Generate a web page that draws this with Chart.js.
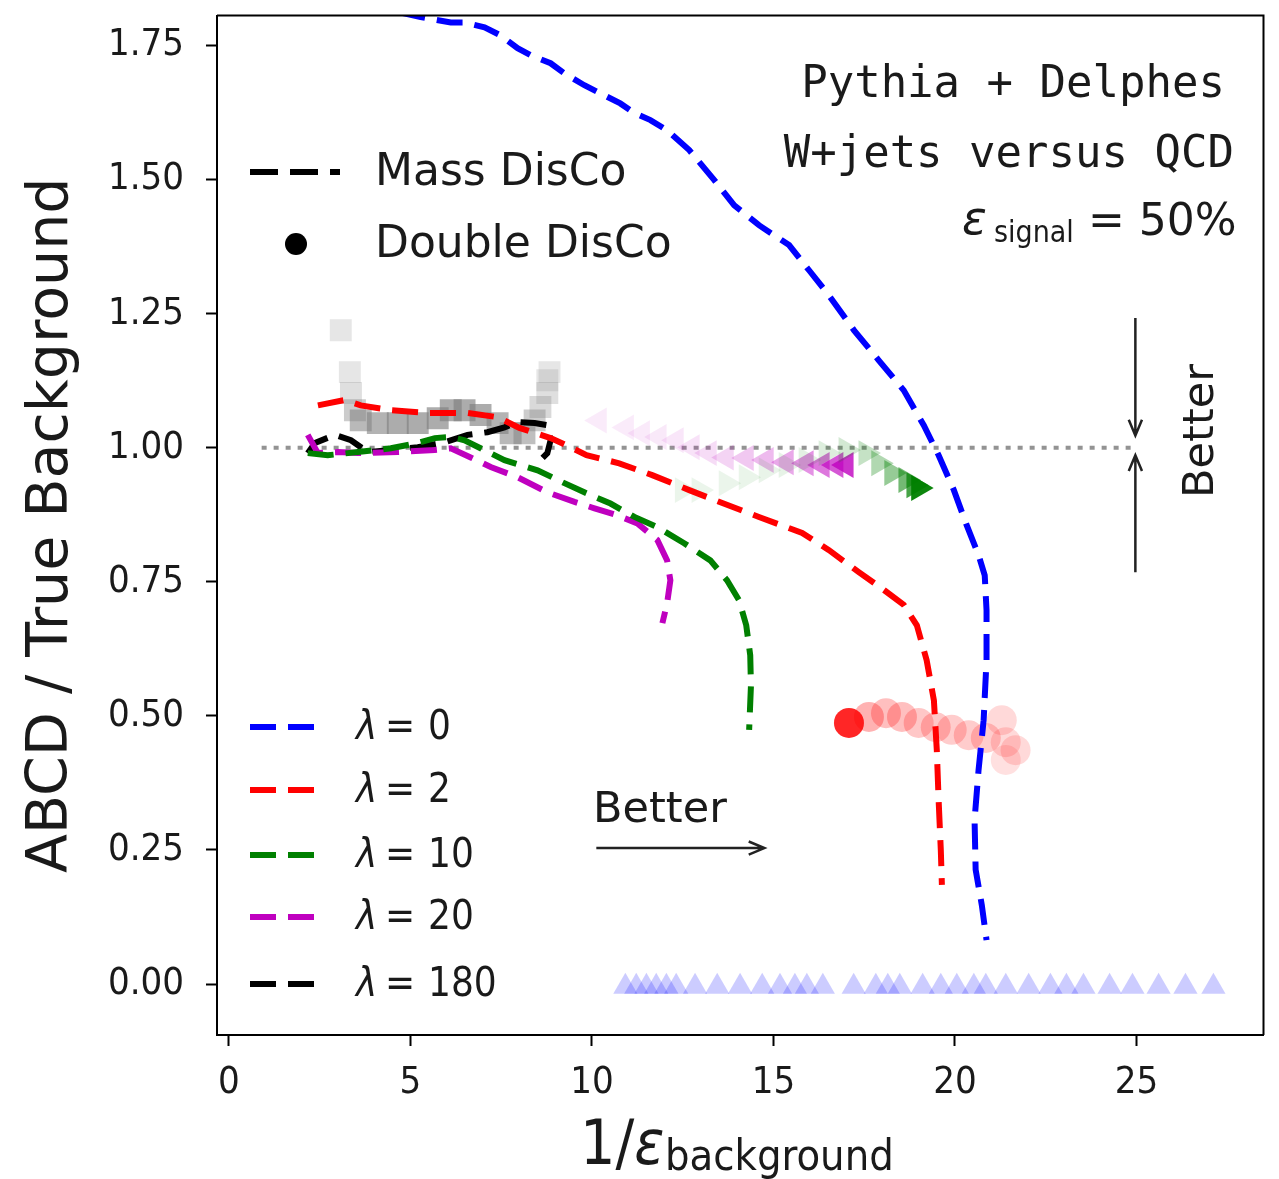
<!DOCTYPE html>
<html>
<head>
<meta charset="utf-8">
<script src="https://cdn.jsdelivr.net/npm/chart.js@4.4.1/dist/chart.umd.min.js"></script>
<style>
  html, body { margin: 0; padding: 0; background: #fff; }
</style>
</head>
<body>
<canvas id="chart" width="1279" height="1179"></canvas>
<script>
// ---- values ----
const xTicks = [0, 5, 10, 15, 20, 25];
const yTicks = [0, 0.25, 0.5, 0.75, 1.0, 1.25, 1.5, 1.75];

// Mass DisCo (dashed curves)
const lam0X = [4.70, 5.28, 6.11, 6.49, 7.04, 7.48, 7.95, 8.31, 8.86, 9.24, 9.79, 10.23, 10.78, 11.17, 11.61, 12.07, 12.68, 13.37, 13.92, 14.60, 15.43, 15.98, 16.53, 17.22, 17.90, 18.59, 19.14, 19.55, 19.97, 20.32, 20.65, 20.82, 20.87, 20.87, 20.79, 20.65, 20.54, 20.57, 20.74, 20.87];
const lam0Y = [1.812, 1.803, 1.793, 1.793, 1.784, 1.769, 1.745, 1.732, 1.717, 1.698, 1.676, 1.661, 1.642, 1.624, 1.611, 1.592, 1.555, 1.499, 1.452, 1.415, 1.378, 1.331, 1.284, 1.219, 1.163, 1.107, 1.042, 0.986, 0.921, 0.856, 0.800, 0.762, 0.697, 0.604, 0.492, 0.399, 0.306, 0.213, 0.147, 0.082];

const lam2X = [2.45, 3.19, 3.63, 4.46, 5.47, 6.57, 7.40, 8.00, 8.86, 9.41, 9.85, 10.75, 11.66, 12.68, 13.59, 14.60, 15.79, 16.53, 17.35, 18.04, 18.59, 18.95, 19.22, 19.42, 19.50, 19.55, 19.61, 19.64];
const lam2Y = [1.079, 1.089, 1.079, 1.070, 1.065, 1.065, 1.057, 1.037, 1.018, 1.001, 0.986, 0.971, 0.949, 0.921, 0.897, 0.871, 0.841, 0.809, 0.768, 0.735, 0.707, 0.669, 0.604, 0.529, 0.436, 0.343, 0.250, 0.185];

const lam10X = [2.17, 2.72, 3.55, 4.46, 5.20, 5.67, 6.11, 6.49, 6.93, 7.59, 8.50, 9.24, 9.79, 10.51, 11.17, 11.80, 12.54, 13.26, 13.72, 14.05, 14.25, 14.36, 14.38, 14.33];
const lam10Y = [0.990, 0.986, 0.992, 0.999, 1.009, 1.018, 1.020, 1.014, 0.999, 0.977, 0.958, 0.934, 0.917, 0.896, 0.871, 0.852, 0.822, 0.790, 0.753, 0.716, 0.669, 0.613, 0.557, 0.474];

const lam20X = [2.17, 2.45, 3.00, 3.55, 4.65, 5.67, 6.11, 6.66, 7.21, 7.95, 8.77, 9.52, 10.07, 10.70, 11.25, 11.80, 12.07, 12.16, 12.07, 11.94];
const lam20Y = [1.024, 0.990, 0.992, 0.990, 0.992, 0.996, 0.999, 0.982, 0.964, 0.945, 0.917, 0.899, 0.887, 0.874, 0.859, 0.828, 0.790, 0.753, 0.710, 0.673];

const lam180X = [2.17, 2.37, 2.92, 3.36, 3.82, 4.46, 5.20, 5.94, 6.57, 7.12, 7.59, 7.95, 8.42, 8.77, 8.86, 8.77, 8.64];
const lam180Y = [0.990, 1.009, 1.024, 1.014, 0.992, 0.996, 1.001, 1.010, 1.024, 1.029, 1.038, 1.048, 1.046, 1.042, 1.014, 0.990, 0.981];

// Double DisCo (markers)
const dd0X = [10.92, 11.22, 11.50, 11.77, 12.05, 12.32, 12.84, 13.45, 14.08, 14.69, 15.18, 15.59, 15.92, 16.36, 17.21, 17.82, 18.15, 18.48, 19.11, 19.61, 20.05, 20.52, 20.85, 21.40, 22.03, 22.63, 23.07, 23.54, 24.26, 24.89, 25.61, 26.35, 27.12];
const dd0Y = [-0.005, -0.005, -0.005, -0.005, -0.005, -0.005, -0.005, -0.005, -0.005, -0.005, -0.005, -0.005, -0.005, -0.005, -0.005, -0.005, -0.005, -0.005, -0.005, -0.005, -0.005, -0.005, -0.005, -0.005, -0.005, -0.005, -0.005, -0.005, -0.005, -0.005, -0.005, -0.005, -0.005];

const dd2X = [17.08, 17.63, 18.10, 18.54, 19.00, 19.47, 19.91, 20.38, 20.85, 21.29, 21.40, 21.67, 21.40];
const dd2Y = [0.487, 0.498, 0.505, 0.498, 0.487, 0.479, 0.474, 0.464, 0.459, 0.492, 0.451, 0.436, 0.418];

const dd10X = [12.49, 12.95, 13.70, 14.25, 14.80, 15.35, 15.90, 16.45, 17.00, 17.55, 17.90, 18.26, 18.65, 18.87, 19.00];
const dd10Y = [0.921, 0.921, 0.934, 0.945, 0.958, 0.968, 0.977, 0.990, 0.996, 0.990, 0.971, 0.953, 0.940, 0.930, 0.925];

const dd20X = [10.20, 10.95, 11.39, 11.85, 12.32, 12.76, 13.23, 13.70, 14.25, 14.80, 15.35, 15.90, 16.34, 16.72, 17.00];
const dd20Y = [1.051, 1.038, 1.027, 1.020, 1.014, 1.001, 0.990, 0.982, 0.981, 0.977, 0.973, 0.971, 0.968, 0.968, 0.968];

const dd180X = [3.08, 3.33, 3.36, 3.47, 3.63, 4.10, 4.65, 5.20, 5.75, 6.11, 6.49, 6.93, 7.40, 7.76, 8.14, 8.42, 8.58, 8.77, 8.77, 8.83];
const dd180Y = [1.219, 1.141, 1.102, 1.070, 1.051, 1.046, 1.046, 1.046, 1.055, 1.070, 1.070, 1.061, 1.046, 1.027, 1.027, 1.051, 1.076, 1.102, 1.126, 1.141];

// reference line ABCD = truth
const refX = [0.9, 24.9];
const refY = [1.0, 1.0];

const lambdaLabels = ['0', '2', '10', '20', '180'];

// ---- styling ----
const BLUE = '#0000ff', RED = '#ff0000', GREEN = '#008000', MAGENTA = '#bf00bf', BLACK = '#000000';
const lambdaColors = [BLUE, RED, GREEN, MAGENTA, BLACK];
const DASH = [26, 12];
const TEXT = '#1a1a1a';

const pts = (xs, ys) => xs.map((x, i) => ({ x: x, y: ys[i] }));

function rgba(hex, a) {
    const n = parseInt(hex.slice(1), 16);
    return `rgba(${(n >> 16) & 255},${(n >> 8) & 255},${n & 255},${a})`;
}
// alpha ramp along a marker series (faint at the start, solid at the end)
function ramp(hex, a0, a1, n, pow) {
    return ctx => {
        const i = ctx.dataIndex === undefined ? n - 1 : ctx.dataIndex;
        const t = Math.pow(i / Math.max(n - 1, 1), pow);
        return rgba(hex, a0 + (a1 - a0) * t);
    };
}
const grayAlpha = [0.2, 0.2, 0.25, 0.4, 0.55, 0.6, 0.65, 0.65, 0.65, 0.65, 0.65, 0.65, 0.6, 0.55, 0.5, 0.4, 0.3, 0.25, 0.2, 0.2];
const redAlpha = [0.85, 0.3, 0.25, 0.25, 0.22, 0.22, 0.2, 0.2, 0.2, 0.15, 0.15, 0.15, 0.12];

const lineDs = (label, xs, ys, color) => ({
    type: 'line', label: label, data: pts(xs, ys),
    borderColor: color, borderWidth: 6, borderDash: DASH,
    pointRadius: 0, fill: false, tension: 0, order: 0
});

const datasets = [
    lineDs('lambda=0', lam0X, lam0Y, BLUE),
    lineDs('lambda=2', lam2X, lam2Y, RED),
    lineDs('lambda=10', lam10X, lam10Y, GREEN),
    lineDs('lambda=20', lam20X, lam20Y, MAGENTA),
    lineDs('lambda=180', lam180X, lam180Y, BLACK),
    {
        type: 'line', label: 'truth', data: pts(refX, refY),
        borderColor: 'rgba(128,128,128,0.85)', borderWidth: 4, borderDash: [5, 7],
        pointRadius: 0, order: 3
    },
    {
        type: 'scatter', label: 'dd lambda=0', data: pts(dd0X, dd0Y),
        pointStyle: 'triangle', pointRadius: 14, borderWidth: 0,
        backgroundColor: rgba(BLUE, 0.2), order: 1
    },
    {
        type: 'scatter', label: 'dd lambda=2', data: pts(dd2X, dd2Y),
        pointStyle: 'circle', pointRadius: 15, borderWidth: 0,
        backgroundColor: ctx => rgba(RED, redAlpha[ctx.dataIndex] ?? 0.2), order: 1
    },
    {
        type: 'scatter', label: 'dd lambda=10', data: pts(dd10X, dd10Y),
        pointStyle: 'triangle', rotation: 90, pointRadius: 15, borderWidth: 0,
        backgroundColor: ramp(GREEN, 0.08, 0.95, dd10X.length, 4), order: 1
    },
    {
        type: 'scatter', label: 'dd lambda=20', data: pts(dd20X, dd20Y),
        pointStyle: 'triangle', rotation: -90, pointRadius: 15, borderWidth: 0,
        backgroundColor: ramp(MAGENTA, 0.08, 0.8, dd20X.length, 3), order: 1
    },
    {
        type: 'scatter', label: 'dd lambda=180', data: pts(dd180X, dd180Y),
        pointStyle: 'rect', pointRadius: 15.5, borderWidth: 0,
        backgroundColor: ctx => rgba('#808080', grayAlpha[ctx.dataIndex] ?? 0.3), order: 2
    }
];

// ---- extra drawing: frame, legends, notes, arrows, x title ----
function arrow(ctx, x0, y0, x1, y1) {
    const a = Math.atan2(y1 - y0, x1 - x0), h = 17, w = 0.4;
    ctx.beginPath();
    ctx.moveTo(x0, y0); ctx.lineTo(x1, y1);
    ctx.moveTo(x1 - h * Math.cos(a - w), y1 - h * Math.sin(a - w));
    ctx.lineTo(x1, y1);
    ctx.lineTo(x1 - h * Math.cos(a + w), y1 - h * Math.sin(a + w));
    ctx.stroke();
}

const extras = {
    id: 'extras',
    afterDraw(chart) {
        const ctx = chart.ctx, a = chart.chartArea;
        const X = v => chart.scales.x.getPixelForValue(v);
        const Y = v => chart.scales.y.getPixelForValue(v);
        ctx.save();

        // top and right spines
        ctx.strokeStyle = '#000'; ctx.lineWidth = 2; ctx.setLineDash([]);
        ctx.beginPath();
        ctx.moveTo(a.left, a.top); ctx.lineTo(a.right, a.top); ctx.lineTo(a.right, a.bottom);
        ctx.stroke();

        ctx.fillStyle = TEXT; ctx.textBaseline = 'middle'; ctx.textAlign = 'left';

        // legend: Mass vs Double DisCo
        ctx.strokeStyle = '#000'; ctx.lineWidth = 6; ctx.setLineDash([28, 12]);
        ctx.beginPath(); ctx.moveTo(250, 172); ctx.lineTo(340, 172); ctx.stroke();
        ctx.setLineDash([]);
        ctx.beginPath(); ctx.arc(296, 244, 11, 0, Math.PI * 2); ctx.fillStyle = '#000'; ctx.fill();
        ctx.fillStyle = TEXT;
        ctx.font = '44px "DejaVu Sans"';
        ctx.fillText('Mass DisCo', 375, 174);
        ctx.fillText('Double DisCo', 375, 246);

        // legend: lambda values
        const rows = [727, 790, 855, 917, 984];
        rows.forEach((y, i) => {
            ctx.strokeStyle = lambdaColors[i]; ctx.lineWidth = 6; ctx.setLineDash(DASH);
            ctx.beginPath(); ctx.moveTo(250, y); ctx.lineTo(318, y); ctx.stroke();
            ctx.setLineDash([]);
            ctx.fillStyle = TEXT;
            ctx.font = 'italic 40px "DejaVu Sans Condensed"';
            ctx.fillText('λ', 356, y + 2);
            ctx.font = '40px "DejaVu Sans Condensed"';
            ctx.fillText('=', 385, y + 2);
            ctx.fillText(lambdaLabels[i], 428, y + 2);
        });

        // sample description, top right
        ctx.textBaseline = 'alphabetic'; ctx.textAlign = 'right';
        ctx.font = '44px "DejaVu Sans Mono"';
        ctx.fillText('Pythia + Delphes', 1225, 97);
        ctx.fillText('W+jets versus QCD', 1234, 167);
        ctx.textAlign = 'left';
        ctx.font = '44px "DejaVu Sans"';
        ctx.fillText('= 50%', 1088, 235);
        ctx.font = '30px "DejaVu Sans Condensed"';
        ctx.fillText('signal', 994, 242);
        ctx.font = 'italic 46px "DejaVu Sans"';
        ctx.fillText('ε', 962, 234);

        // "Better" arrows
        ctx.strokeStyle = '#222'; ctx.lineWidth = 2.5;
        arrow(ctx, X(10.12), Y(0.2535), X(14.75), Y(0.2535));
        arrow(ctx, X(24.97), Y(1.242), X(24.97), Y(1.023));
        arrow(ctx, X(24.97), Y(0.768), X(24.97), Y(0.986));
        ctx.font = '43px "DejaVu Sans"';
        ctx.fillText('Better', 593, 822);
        ctx.save();
        ctx.translate(1213, 431); ctx.rotate(-Math.PI / 2);
        ctx.textAlign = 'center';
        ctx.fillText('Better', 0, 0);
        ctx.restore();

        // x axis title 1/eps_background
        ctx.fillStyle = TEXT;
        ctx.font = '62px "DejaVu Sans Condensed"';
        ctx.fillText('1/', 580, 1164);
        let w = ctx.measureText('1/').width;
        ctx.font = 'italic 62px "DejaVu Sans Condensed"';
        ctx.fillText('ε', 580 + w, 1164);
        ctx.font = '43px "DejaVu Sans Condensed"';
        ctx.fillText('background', 665, 1170);

        ctx.restore();
    }
};

const tickFont = { family: '"DejaVu Sans Condensed"', size: 38 };

new Chart(document.getElementById('chart'), {
    type: 'scatter',
    data: { datasets: datasets },
    options: {
        responsive: false,
        animation: false,
        events: [],
        layout: { padding: { top: 15, right: 14, left: 0, bottom: 0 } },
        plugins: { legend: { display: false }, tooltip: { enabled: false } },
        scales: {
            x: {
                type: 'linear', min: -0.33, max: 28.5,
                afterBuildTicks: s => { s.ticks = xTicks.map(v => ({ value: v })); },
                afterFit: s => { s.height = 144; s.paddingLeft = 0; s.paddingRight = 0; },
                grid: { drawOnChartArea: false, drawTicks: true, tickLength: 11, tickWidth: 2, tickColor: '#000' },
                border: { display: true, color: '#000', width: 2 },
                ticks: { font: tickFont, color: TEXT, padding: 14, maxRotation: 0, callback: v => String(v) }
            },
            y: {
                type: 'linear', min: -0.095, max: 1.806,
                afterBuildTicks: s => { s.ticks = yTicks.map(v => ({ value: v })); },
                afterFit: s => { s.width = 217; s.paddingTop = 0; s.paddingBottom = 0; },
                grid: { drawOnChartArea: false, drawTicks: true, tickLength: 11, tickWidth: 2, tickColor: '#000' },
                border: { display: true, color: '#000', width: 2 },
                ticks: { font: tickFont, color: TEXT, padding: 22, callback: v => v.toFixed(2) },
                title: {
                    display: true, text: 'ABCD / True Background', color: TEXT,
                    font: { family: '"DejaVu Sans"', size: 57 }, padding: { top: 18, bottom: 0 }
                }
            }
        }
    },
    plugins: [extras]
});
</script>
</body>
</html>
